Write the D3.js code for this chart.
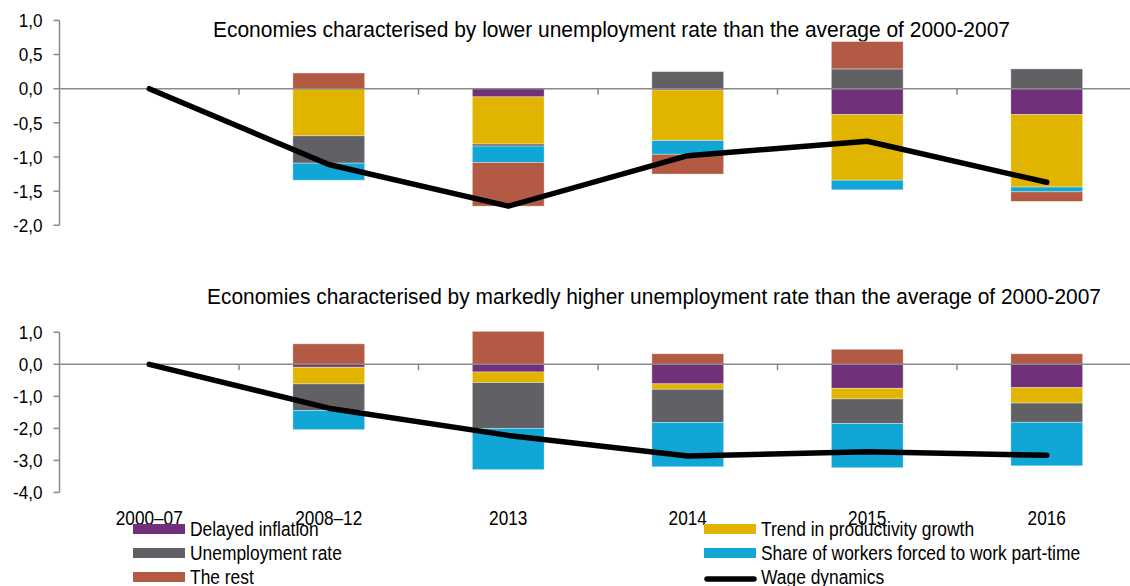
<!DOCTYPE html>
<html>
<head>
<meta charset="utf-8">
<script src="https://cdn.jsdelivr.net/npm/d3@7"></script>
<style>
  html, body { margin: 0; padding: 0; background: #fff; }
  svg { display: block; font-family: "Liberation Sans", Arial, sans-serif; }
</style>
</head>
<body>
<svg id="chart" width="1130" height="586"></svg>
<script>
// Categories along the horizontal axis
const categories = ["2000–07", "2008–12", "2013", "2014", "2015", "2016"];

// Contributions to wage dynamics, percentage points
// Panel 1: economies with lower unemployment than the 2000-2007 average
const delayedInflationLow = [0, 0, -0.12, -0.02, -0.38, -0.38];
const trendProductivityLow = [0, -0.69, -0.69, -0.74, -0.96, -1.06];
const unemploymentLow = [0, -0.40, -0.03, 0.25, 0.29, 0.29];
const partTimeLow = [0, -0.25, -0.24, -0.20, -0.14, -0.07];
const restLow = [0, 0.23, -0.64, -0.29, 0.40, -0.14];
const wageLow = [0, -1.11, -1.72, -0.98, -0.77, -1.37];

// Panel 2: economies with markedly higher unemployment than the 2000-2007 average
const delayedInflationHigh = [0, -0.09, -0.24, -0.61, -0.75, -0.73];
const trendProductivityHigh = [0, -0.52, -0.33, -0.17, -0.33, -0.48];
const unemploymentHigh = [0, -0.83, -1.43, -1.04, -0.77, -0.60];
const partTimeHigh = [0, -0.60, -1.29, -1.38, -1.38, -1.36];
const restHigh = [0, 0.64, 1.03, 0.33, 0.47, 0.33];
const wageHigh = [0, -1.37, -2.22, -2.86, -2.73, -2.84];

// Axis tick values
const ticksLow = [1, 0.5, 0, -0.5, -1, -1.5, -2];
const ticksHigh = [1, 0, -1, -2, -3, -4];

// Series names and colours
const seriesKeys = ["delayed", "trend", "unemp", "parttime", "rest"];
const seriesNames = {
  delayed: "Delayed inflation",
  trend: "Trend in productivity growth",
  unemp: "Unemployment rate",
  parttime: "Share of workers forced to work part-time",
  rest: "The rest"
};
const colors = {
  delayed: "#70307a",
  trend: "#e1b400",
  unemp: "#616065",
  parttime: "#10a6d6",
  rest: "#b35a45"
};

const svg = d3.select("#chart");
const axisColor = "#8a8a8a";
const fmt = v => d3.format(".1f")(v).replace(".", ",").replace("−", "-");

// narrow-looking type: squeeze each label horizontally
function condense(sel, k) {
  sel.each(function () {
    const w = this.getComputedTextLength();
    d3.select(this).attr("textLength", w * k).attr("lengthAdjust", "spacingAndGlyphs");
  });
}

const x = d3.scaleBand()
  .domain(categories)
  .range([59.5, 1136.5])
  .paddingInner(0.6)
  .paddingOuter(0.3);
const step = x.step();
const cx = c => x(c) + x.bandwidth() / 2;

function buildRows(d, t, u, p, r) {
  return categories.map((c, i) => ({
    cat: c, delayed: d[i], trend: t[i], unemp: u[i], parttime: p[i], rest: r[i]
  }));
}

function drawPanel(opts) {
  const { rows, wage, y, ticks, title, titleY, titleX, titleLen } = opts;
  const g = svg.append("g");

  // title
  g.append("text")
    .attr("x", titleX).attr("y", titleY)
    .attr("text-anchor", "middle")
    .attr("font-size", 22)
    .attr("textLength", titleLen)
    .attr("lengthAdjust", "spacingAndGlyphs")
    .attr("fill", "#000")
    .text(title);

  // stacked bars
  const stack = d3.stack().keys(seriesKeys).offset(d3.stackOffsetDiverging);
  const layers = stack(rows);
  g.append("g").selectAll("g")
    .data(layers)
    .join("g")
    .attr("fill", d => colors[d.key])
    .selectAll("rect")
    .data(d => d.filter(s => Math.abs(s[1] - s[0]) > 1e-9))
    .join("rect")
    .attr("x", d => x(d.data.cat))
    .attr("width", x.bandwidth())
    .attr("y", d => y(Math.max(d[0], d[1])))
    .attr("height", d => Math.abs(y(d[0]) - y(d[1])))
    .attr("stroke", "#ffffff")
    .attr("stroke-opacity", 0.45)
    .attr("stroke-width", 0.8);

  // vertical axis
  const yAxis = g.append("g").attr("transform", "translate(59.5,0)");
  yAxis.append("line")
    .attr("y1", y(d3.max(ticks))).attr("y2", y(d3.min(ticks)))
    .attr("stroke", axisColor).attr("stroke-width", 1.5);
  yAxis.selectAll("line.tick")
    .data(ticks).join("line").attr("class", "tick")
    .attr("x1", -6).attr("x2", 0)
    .attr("y1", d => y(d)).attr("y2", d => y(d))
    .attr("stroke", axisColor).attr("stroke-width", 1.5);
  yAxis.selectAll("text")
    .data(ticks).join("text")
    .attr("x", -17).attr("y", d => y(d))
    .attr("dy", "0.35em")
    .attr("text-anchor", "end")
    .attr("font-size", 19)
    .attr("fill", "#000")
    .text(fmt)
    .call(condense, 0.9);

  // zero line with category separators
  const y0 = y(0);
  g.append("line")
    .attr("x1", 59.5).attr("x2", 1136.5)
    .attr("y1", y0).attr("y2", y0)
    .attr("stroke", axisColor).attr("stroke-width", 1.5);
  g.selectAll("line.sep")
    .data(categories.slice(1)).join("line").attr("class", "sep")
    .attr("x1", c => x(c) - step * x.paddingInner() / 2)
    .attr("x2", c => x(c) - step * x.paddingInner() / 2)
    .attr("y1", y0).attr("y2", y0 + 6)
    .attr("stroke", axisColor).attr("stroke-width", 1.5);

  // wage dynamics line
  const line = d3.line().x((d, i) => cx(categories[i])).y(d => y(d));
  g.append("path")
    .datum(wage)
    .attr("d", line)
    .attr("fill", "none")
    .attr("stroke", "#000")
    .attr("stroke-width", 5.5)
    .attr("stroke-linecap", "round")
    .attr("stroke-linejoin", "round");
}

const yLow = d3.scaleLinear().domain([-2, 1]).range([225.3, 20.4]);
const yHigh = d3.scaleLinear().domain([-4, 1]).range([492.4, 332.3]);

drawPanel({
  rows: buildRows(delayedInflationLow, trendProductivityLow, unemploymentLow, partTimeLow, restLow),
  wage: wageLow, y: yLow, ticks: ticksLow,
  title: "Economies characterised by lower unemployment rate than the average of 2000-2007",
  titleX: 611.5, titleY: 37, titleLen: 797
});
drawPanel({
  rows: buildRows(delayedInflationHigh, trendProductivityHigh, unemploymentHigh, partTimeHigh, restHigh),
  wage: wageHigh, y: yHigh, ticks: ticksHigh,
  title: "Economies characterised by markedly higher unemployment rate than the average of 2000-2007",
  titleX: 654, titleY: 304, titleLen: 894
});

// category labels
svg.append("g").selectAll("text")
  .data(categories).join("text")
  .attr("x", c => cx(c))
  .attr("y", 525)
  .attr("text-anchor", "middle")
  .attr("font-size", 20)
  .attr("fill", "#000")
  .text(c => c)
  .call(condense, 0.86);

// legend
const legendItems = [
  { key: "delayed", col: 0, row: 0 },
  { key: "unemp", col: 0, row: 1 },
  { key: "rest", col: 0, row: 2 },
  { key: "trend", col: 1, row: 0 },
  { key: "parttime", col: 1, row: 1 },
  { key: "wage", col: 1, row: 2 }
];
const legendX = [133, 704];
const legendY = [529, 553, 577];
const legend = svg.append("g");
legendItems.forEach(it => {
  const lx = legendX[it.col], ly = legendY[it.row];
  if (it.key === "wage") {
    legend.append("line")
      .attr("x1", lx + 3).attr("x2", lx + 50)
      .attr("y1", ly + 2).attr("y2", ly + 2)
      .attr("stroke", "#000").attr("stroke-width", 5.5)
      .attr("stroke-linecap", "round");
  } else {
    legend.append("rect")
      .attr("x", lx).attr("y", ly - 5)
      .attr("width", 52).attr("height", 10)
      .attr("fill", colors[it.key]);
  }
  legend.append("text")
    .attr("x", lx + 57).attr("y", ly)
    .attr("dy", "0.35em")
    .attr("font-size", 20)
    .attr("fill", "#000")
    .text(it.key === "wage" ? "Wage dynamics" : seriesNames[it.key])
    .call(condense, 0.87);
});
</script>
</body>
</html>
